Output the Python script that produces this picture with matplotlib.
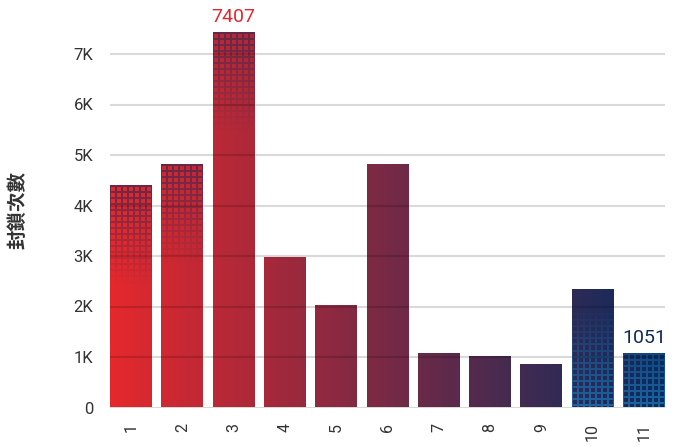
import numpy as np
import matplotlib
matplotlib.use("Agg")
import matplotlib.pyplot as plt
from matplotlib.colors import LinearSegmentedColormap, to_rgb

plt.rcParams['font.family'] = ['Roboto', 'DejaVu Sans']

categories = ['1', '2', '3', '4', '5', '6', '7', '8', '9', '10', '11']
values = [4390, 4800, 7407, 2960, 2015, 4805, 1060, 1000, 840, 2325, 1051]
ytick_values = [0, 1000, 2000, 3000, 4000, 5000, 6000, 7000]
ytick_labels = ['0', '1K', '2K', '3K', '4K', '5K', '6K', '7K']
top_pattern_bars = ['1', '2', '3']
bottom_pattern_bars = ['10', '11']
labelled_bars = {'3': '#e0282e', '11': '#0d2a5b'}

W, H = 675, 447
fig = plt.figure(figsize=(W / 100, H / 100), dpi=100)
ax_left, ax_right, ax_bottom, ax_h = 110, 665, 39.5, 378.75
ax = fig.add_axes([ax_left / W, ax_bottom / H, (ax_right - ax_left) / W, ax_h / H])

bar_w = 0.817
x = np.arange(1, len(categories) + 1)
xmin, xmax = 1 - 0.41, len(categories) + 0.41
ymax = 7500
px_x = (ax_right - ax_left) / (xmax - xmin)
px_y = ax_h / ymax

cmap = LinearSegmentedColormap.from_list('rb', ['#e5282d', '#082b5e'])


def pattern(h_px, w_px, color, from_top):
    # grid of 2px lines every 6px, fading away from the top or the bottom
    ny, nx = max(int(round(h_px)), 1), int(round(w_px))
    img = np.zeros((ny, nx, 4))
    img[..., :3] = to_rgb(color)
    ii, jj = np.mgrid[0:ny, 0:nx]
    on = ((jj - 5) % 6 < 2) | ((ii - 6) % 6 < 2)
    dist = ii if from_top else (ny - 1 - ii)
    fade = np.clip(1 - dist / 100.0, 0, 1)
    img[..., 3] = on * fade * 0.9
    return img


for xi, cat, v in zip(x, categories, values):
    x0, x1 = xi - bar_w / 2, xi + bar_w / 2
    t = np.linspace((x0 - xmin) / (xmax - xmin), (x1 - xmin) / (xmax - xmin), 60)[None, :]
    ax.imshow(t, extent=(x0, x1, 0, v), aspect='auto', cmap=cmap, vmin=0, vmax=1,
              interpolation='bilinear', zorder=1)
    if cat in top_pattern_bars:
        ax.imshow(pattern(v * px_y, bar_w * px_x, '#5a2849', True), extent=(x0, x1, 0, v),
                  aspect='auto', interpolation='nearest', zorder=1.5)
    if cat in bottom_pattern_bars:
        ax.imshow(pattern(v * px_y, bar_w * px_x, '#1b6cab', False), extent=(x0, x1, 0, v),
                  aspect='auto', interpolation='nearest', zorder=1.5)
    if cat in labelled_bars:
        ax.text(xi, v + 140, str(v), ha='center', va='bottom', fontsize=14,
                color=labelled_bars[cat])

ax.set_xlim(xmin, xmax)
ax.set_ylim(0, ymax)
ax.set_xticks(x)
ax.set_xticklabels(categories, rotation=90, fontsize=11.5, color='#333333')
ax.set_yticks(ytick_values)
ax.set_yticklabels(ytick_labels, fontsize=12, color='#333333')
ax.tick_params(length=0)
ax.tick_params(axis='y', pad=12)
ax.tick_params(axis='x', pad=11)
for s in ax.spines.values():
    s.set_visible(False)
ax.set_axisbelow(False)
ax.yaxis.grid(True, color='black', alpha=0.15, linewidth=1.5)
ax.xaxis.grid(False)

fig.text(18 / W, 1 - 210 / H, '封鎖次數', rotation=90, ha='center', va='center',
         fontsize=14, fontweight='bold', color='#333333',
         family=['Noto Sans CJK TC', 'DejaVu Sans'])

fig.savefig('out.png', dpi=100)
